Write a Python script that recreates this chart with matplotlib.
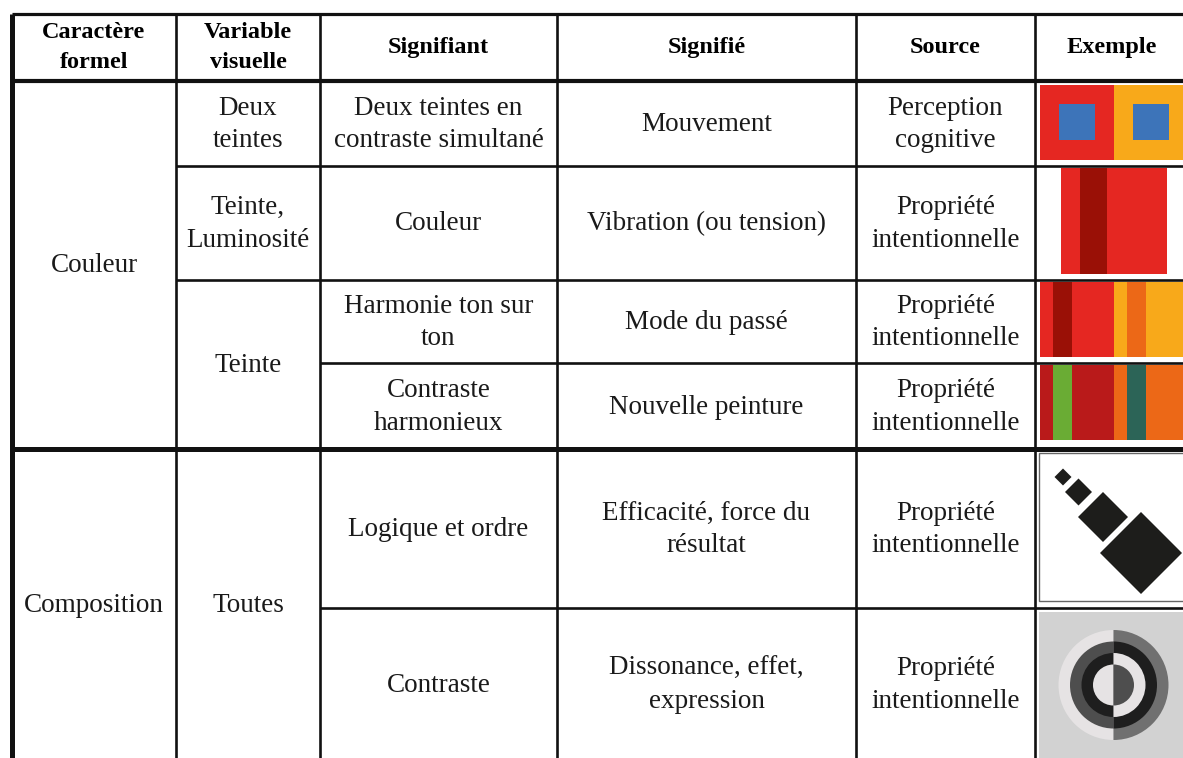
import matplotlib.pyplot as plt
from matplotlib.patches import Rectangle, RegularPolygon, Wedge

plt.rcParams['font.family'] = ['Liberation Serif', 'DejaVu Serif']

# Table content
headers = ["Caractère\nformel", "Variable\nvisuelle", "Signifiant", "Signifié", "Source", "Exemple"]
caracteres = ["Couleur", "Composition"]
caractere_spans = [(0, 4), (4, 6)]
variables = ["Deux\nteintes", "Teinte,\nLuminosité", "Teinte", "Toutes"]
variable_spans = [(0, 1), (1, 2), (2, 4), (4, 6)]
signifiants = ["Deux teintes en\ncontraste simultané", "Couleur", "Harmonie ton sur\nton",
               "Contraste\nharmonieux", "Logique et ordre", "Contraste"]
signifies = ["Mouvement", "Vibration (ou tension)", "Mode du passé", "Nouvelle peinture",
             "Efficacité, force du\nrésultat", "Dissonance, effet,\nexpression"]
sources = ["Perception\ncognitive"] + ["Propriété\nintentionnelle"] * 5

# Example swatch colours
stripes_passe = ["#e52722", "#9a1006", "#e52722", "#f8a91a", "#ec6817", "#f8a91a"]
stripes_nouvelle = ["#b91a1a", "#6aac34", "#b91a1a", "#ec6817", "#2c6457", "#ec6817"]
stripe_edges = [1040, 1053, 1072, 1114, 1127, 1146, 1195]
diamonds = [(1063, 477, 17), (1078.5, 492, 27), (1103, 517, 50), (1141, 553, 82)]
rings_r = [55, 43.5, 32, 20.5]
rings_left = ["#e6e3e4", "#4e4e4e", "#1e1e1e", "#e6e3e4"]
rings_right = ["#707070", "#1e1e1e", "#e6e3e4", "#4e4e4e"]

# Layout (pixels)
col_x = [12, 176, 320, 557, 856, 1035, 1195]
row_y = [14, 81, 166, 280, 363, 449, 608, 760]

fig = plt.figure(figsize=(11.83, 7.58), dpi=100)
ax = fig.add_axes([0, 0, 1, 1])
ax.set_xlim(0, 1183)
ax.set_ylim(758, 0)
ax.axis('off')

LC = "#111111"
thick, thin = 3.6, 1.9
body = dict(fontsize=19.5, ha='center', va='center', linespacing=1.42, color="#1a1a1a")

# examples first so the grid sits on top
ax.add_patch(Rectangle((1040, 85), 74, 75, color="#e52722", lw=0))
ax.add_patch(Rectangle((1114, 85), 81, 75, color="#f8a91a", lw=0))
ax.add_patch(Rectangle((1059, 104), 36, 36, color="#3d74b9", lw=0))
ax.add_patch(Rectangle((1133, 104), 36, 36, color="#3d74b9", lw=0))

ax.add_patch(Rectangle((1061, 168), 106, 106, color="#e52722", lw=0))
ax.add_patch(Rectangle((1080, 168), 27, 106, color="#9a1006", lw=0))

for (y0, y1), cols in [((282, 357), stripes_passe), ((365, 440), stripes_nouvelle)]:
    for i, c in enumerate(cols):
        ax.add_patch(Rectangle((stripe_edges[i], y0), stripe_edges[i + 1] - stripe_edges[i],
                               y1 - y0, color=c, lw=0))

ax.add_patch(Rectangle((1039.5, 453), 160, 148, facecolor="white", edgecolor="#666666", lw=1))
for cx, cy, d in diamonds:
    ax.add_patch(RegularPolygon((cx, cy), 4, radius=d / 2, orientation=0,
                                color="#1d1d1b", lw=0))

ax.add_patch(Rectangle((1039, 612), 160, 150, color="#d2d2d2", lw=0))
for r, cl, cr in zip(rings_r, rings_left, rings_right):
    ax.add_patch(Wedge((1113.5, 685), r, 90, 270, color=cl, lw=0))
    ax.add_patch(Wedge((1113.5, 685), r, -90, 90, color=cr, lw=0))

# grid
def hline(y, x0, lw):
    ax.plot([x0, 1200], [y, y], color=LC, lw=lw, solid_capstyle='butt')

hline(row_y[0], col_x[0], 2.3)
hline(row_y[1], col_x[0], 3.0)
hline(row_y[2], col_x[1], thin)
hline(row_y[3], col_x[1], thin)
hline(row_y[4], col_x[2], thin)
hline(row_y[5], col_x[0], thick)
hline(row_y[6], col_x[2], thin)
ax.plot([col_x[0]] * 2, [row_y[0], 770], color=LC, lw=thick, solid_capstyle='butt')
for x in col_x[1:6]:
    ax.plot([x] * 2, [row_y[0], 770], color=LC, lw=thin, solid_capstyle='butt')

# text
for i, h in enumerate(headers):
    ax.text((col_x[i] + col_x[i + 1]) / 2 + (-3 if i == 5 else 0), (row_y[0] + row_y[1]) / 2,
            h, fontsize=17.5, fontweight='bold', ha='center', va='center', linespacing=1.5)

def put(col, span, txt):
    cx = (col_x[col] + col_x[col + 1]) / 2
    cy = (row_y[span[0] + 1] + row_y[span[1] + 1]) / 2 + 1
    ax.text(cx, cy, txt, **body)

for txt, sp in zip(caracteres, caractere_spans):
    put(0, sp, txt)
for txt, sp in zip(variables, variable_spans):
    put(1, sp, txt)
for i in range(6):
    put(2, (i, i + 1), signifiants[i])
    put(3, (i, i + 1), signifies[i])
    put(4, (i, i + 1), sources[i])

fig.savefig("out.png", dpi=100)
